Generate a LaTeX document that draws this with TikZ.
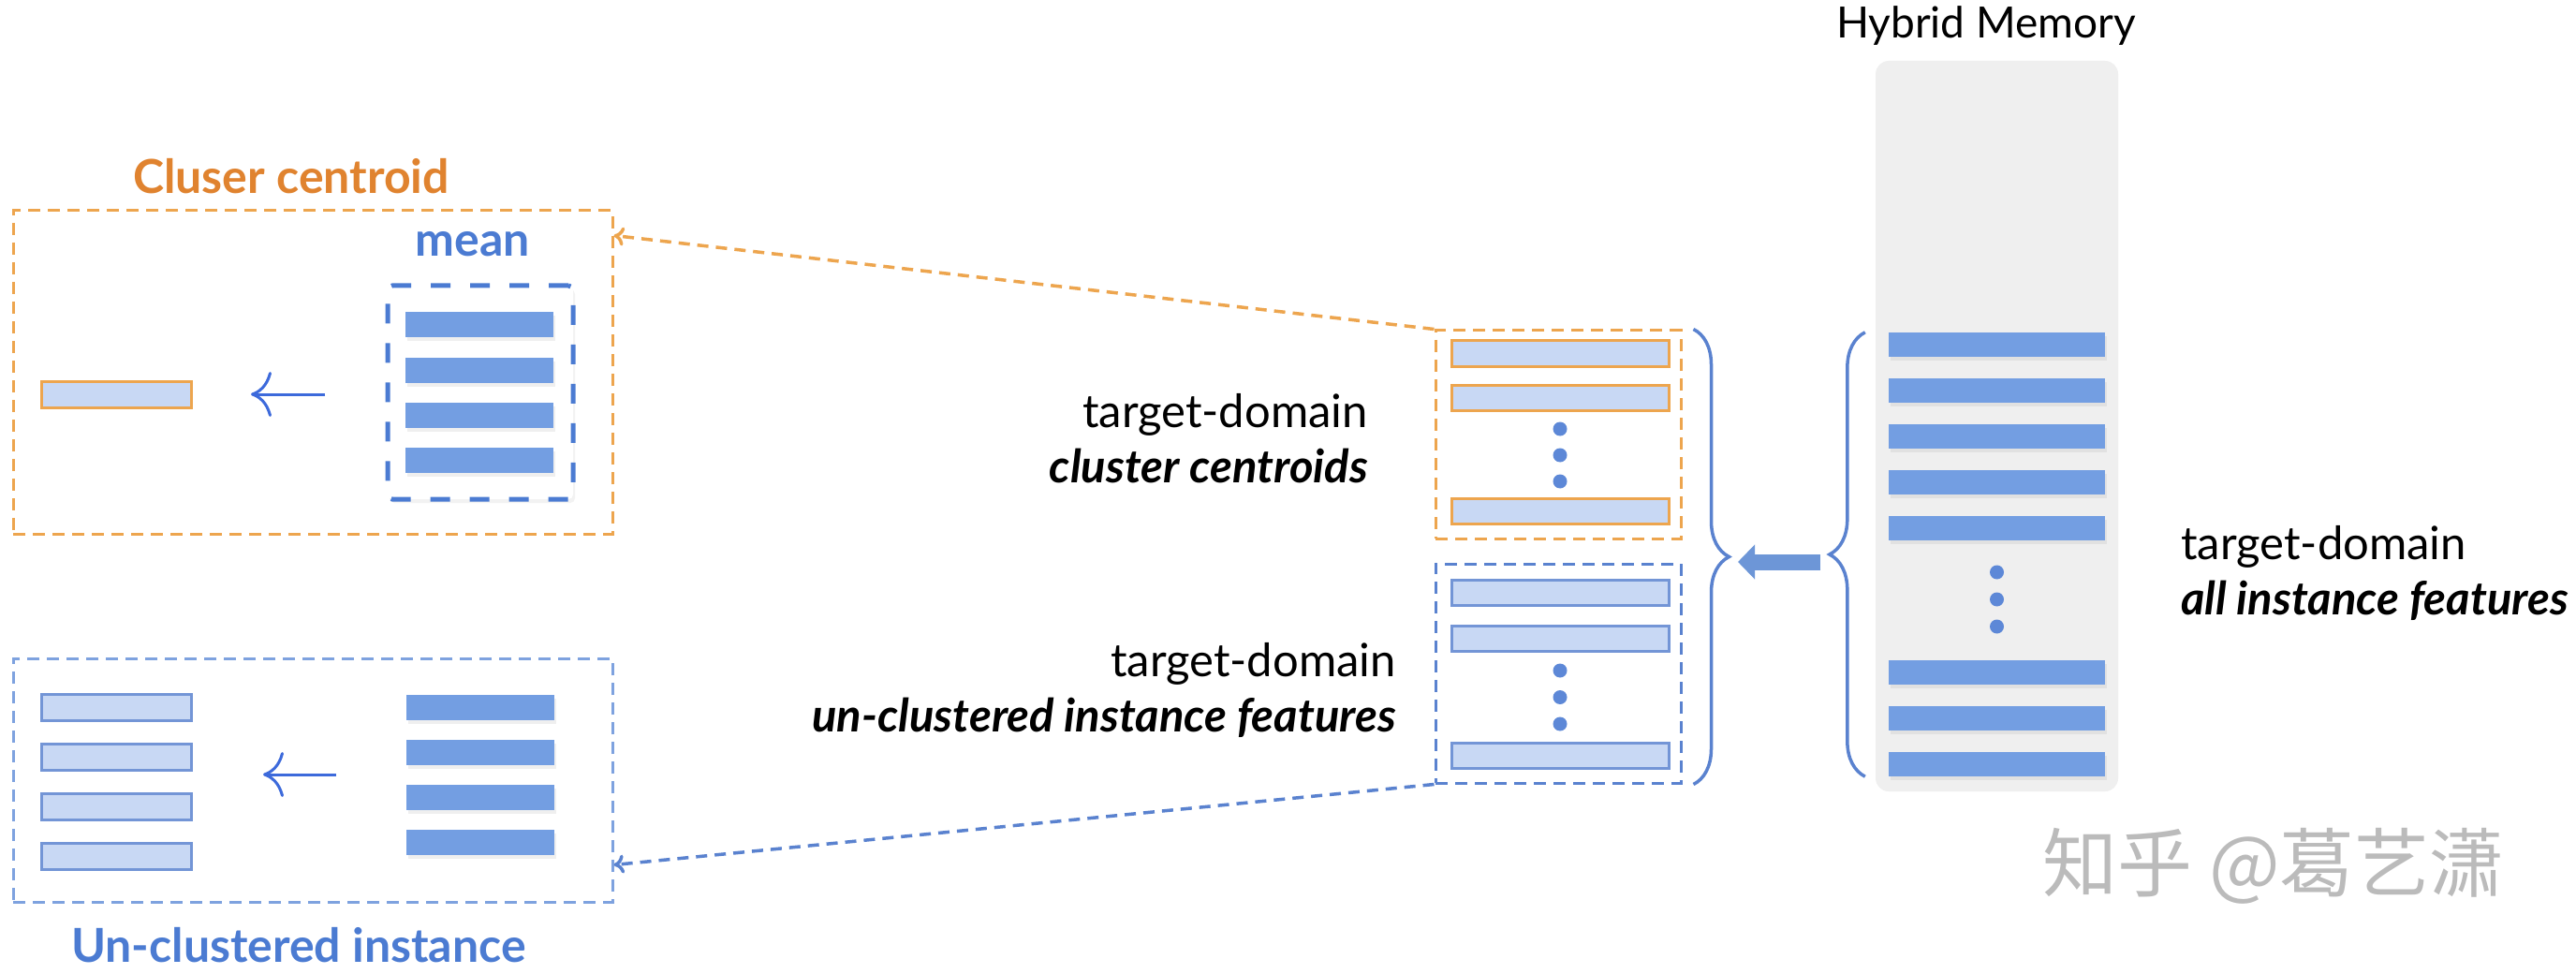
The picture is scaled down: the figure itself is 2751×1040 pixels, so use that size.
\documentclass[tikz,border=0pt]{standalone}
\usepackage{fontspec}
\setmainfont{Lato}
\newfontfamily\cjkfont{Noto Sans CJK SC}
\usetikzlibrary{arrows.meta,decorations.pathreplacing,shadows}

\definecolor{ctrorange}{HTML}{E0832F}
\definecolor{ctrline}{HTML}{EDA54E}
\definecolor{insblue}{HTML}{4B7BD2}
\definecolor{barblue}{HTML}{739EE2}
\definecolor{barlight}{HTML}{C8D8F4}
\definecolor{braceblue}{HTML}{5A82CF}
\definecolor{softblue}{HTML}{7EA2DF}
\definecolor{arrowblue}{HTML}{3D6ADB}
\definecolor{memgray}{HTML}{EFEFEF}
\definecolor{markgray}{HTML}{BBBBBB}

\begin{document}
\begin{tikzpicture}[x=1pt, y=-1pt, node distance=48pt,
    txt/.style={inner sep=0pt, font=\fontsize{49}{59}\selectfont},
    heading/.style={inner sep=0pt, font=\fontsize{50}{60}\selectfont\bfseries},
    featbar/.style={rectangle, inner sep=0pt, fill=barblue, minimum width=158pt, minimum height=27pt,
        drop shadow={shadow xshift=2pt, shadow yshift=-4pt, opacity=0.12}},
    membar/.style={featbar, minimum width=231pt, minimum height=26pt},
    ctrbar/.style={rectangle, inner sep=0pt, fill=barlight, draw=ctrline, line width=3pt, minimum width=160pt, minimum height=28pt},
    insbar/.style={ctrbar, draw=braceblue!85!white},
    dot/.style={circle, inner sep=0pt, fill=insblue!90!white, minimum size=15pt},
    dashbox/.style={rectangle, inner sep=0pt, line width=3pt, dash pattern=on 13pt off 8pt},
    meanbox/.style={rectangle, inner sep=0pt, draw=insblue, fill=white, line width=5pt, dash pattern=on 21pt off 21pt,
        rounded corners=5pt, drop shadow={shadow xshift=2pt, shadow yshift=-4pt, opacity=0.1}},
    mempanel/.style={rectangle, inner sep=0pt, fill=memgray, rounded corners=14pt},
    thinarrow/.style={draw=arrowblue, line width=3pt, -{Computer Modern Rightarrow[length=22pt,width=48pt]}},
    link/.style={line width=3.5pt, dash pattern=on 12pt off 8pt, -{Computer Modern Rightarrow[length=11pt,width=20pt]}},
    bracket/.style={draw=braceblue, line width=3.5pt, decorate, decoration={brace, amplitude=38pt}},
    fatarrow/.style={draw=barblue!95!black, line width=17pt, -{Triangle[length=18pt,width=36pt]}}]

    \useasboundingbox[fill=white] (0,0) rectangle (2751,1040);

    % hybrid memory on the right
    \node[txt, font=\fontsize{46}{56}\selectfont] (memtitle) at (2121,28) {Hybrid Memory};
    \node[mempanel, minimum width=259pt, minimum height=780pt] (memory) at (2132.5,455) {};
    \node[membar] (m1) at (2132.5,368) {};
    \node[membar, node distance=49pt, below of=m1] (m2) {};
    \node[membar, node distance=49pt, below of=m2] (m3) {};
    \node[membar, node distance=49pt, below of=m3] (m4) {};
    \node[membar, node distance=49pt, below of=m4] (m5) {};
    \node[dot, node distance=47pt, below of=m5] (md1) {};
    \node[dot, node distance=29pt, below of=md1] (md2) {};
    \node[dot, node distance=29pt, below of=md2] (md3) {};
    \node[membar, node distance=49pt, below of=md3] (m6) {};
    \node[membar, node distance=49pt, below of=m6] (m7) {};
    \node[membar, node distance=49pt, below of=m7] (m8) {};
    \node[txt, anchor=west, align=left] (alllabel) at (2329,612) {target-domain\\\textbf{\textit{all instance features}}};

    % middle column
    \node[dashbox, draw=ctrline, minimum width=262pt, minimum height=222pt] (ccbox) at (1664,464) {};
    \node[ctrbar, minimum width=232pt, minimum height=27pt] (c1) at (1666,377.5) {};
    \node[ctrbar, minimum width=232pt, minimum height=27pt, node distance=47pt, below of=c1] (c2) {};
    \node[dot] (cd1) at (1666,458) {};
    \node[dot, node distance=28pt, below of=cd1] (cd2) {};
    \node[dot, node distance=28pt, below of=cd2] (cd3) {};
    \node[ctrbar, minimum width=232pt, minimum height=27pt] (c3) at (1666,545.5) {};

    \node[dashbox, draw=braceblue, minimum width=262pt, minimum height=234pt] (ucbox) at (1664,719) {};
    \node[insbar, minimum width=232pt, minimum height=27pt] (u1) at (1666,633) {};
    \node[insbar, minimum width=232pt, minimum height=27pt, node distance=48.5pt, below of=u1] (u2) {};
    \node[dot] (ud1) at (1666,716) {};
    \node[dot, node distance=28.5pt, below of=ud1] (ud2) {};
    \node[dot, node distance=28.5pt, below of=ud2] (ud3) {};
    \node[insbar, minimum width=232pt, minimum height=27pt] (u3) at (1666,807) {};

    \node[txt, anchor=east, align=right] (cclabel) at (1461,468) {target-domain\\\textbf{\textit{cluster centroids}}};
    \node[txt, anchor=east, align=right] (uclabel) at (1491,737) {target-domain\\\textbf{\textit{un-clustered instance features}}};

    % braces and the fat arrow between them
    \draw[bracket] ([xshift=12pt]ccbox.north east) -- ([xshift=12pt]ucbox.south east);
    \draw[bracket] ([xshift=-25pt]m8.south west) -- ([xshift=-25pt]m1.north west);
    \coordinate (midtip) at (1845,600);
    \coordinate (memtip) at (1954,600);
    \draw[fatarrow] ([xshift=-10pt]memtip) -- ([xshift=11pt]midtip);

    % cluster centroid panel
    \node[heading, text=ctrorange] (cctitle) at (311,188) {Cluser centroid};
    \node[dashbox, draw=ctrline, minimum width=640pt, minimum height=345pt] (cbox) at (334,397.5) {};
    \node[heading, text=insblue] (meantitle) at (505,261) {mean};
    \node[meanbox, minimum width=198pt, minimum height=228pt] (mbox) at (513,419) {};
    \node[featbar] (mb1) at (512,347) {};
    \node[featbar, below of=mb1] (mb2) {};
    \node[featbar, below of=mb2] (mb3) {};
    \node[featbar, below of=mb3] (mb4) {};
    \node[ctrbar] (cbar) at (124,421) {};
    \coordinate (meanfrom) at (347,421);
    \coordinate (meanto) at (268,421);
    \draw[thinarrow] (meanfrom) -- (meanto);

    % un-clustered instance panel
    \node[dashbox, draw=softblue, minimum width=640pt, minimum height=260pt] (ubox) at (334,833) {};
    \node[insbar] (ul1) at (124,755) {};
    \node[insbar, node distance=53pt, below of=ul1] (ul2) {};
    \node[insbar, node distance=53pt, below of=ul2] (ul3) {};
    \node[insbar, node distance=53pt, below of=ul3] (ul4) {};
    \node[featbar] (ur1) at (513,755) {};
    \node[featbar, below of=ur1] (ur2) {};
    \node[featbar, below of=ur2] (ur3) {};
    \node[featbar, below of=ur3] (ur4) {};
    \coordinate (insfrom) at (359,827);
    \coordinate (insto) at (281,827);
    \draw[thinarrow] (insfrom) -- (insto);
    \node[heading, text=insblue] (uctitle) at (319,1009) {Un-clustered instance};

    % dashed links to the panels
    \draw[link, draw=ctrline] (ccbox.north west) -- ([yshift=-28pt]cbox.north east);
    \draw[link, draw=braceblue] (ucbox.south west) -- ([yshift=41pt]ubox.south east);

    % watermark
    \node[inner sep=0pt, text=markgray, font=\cjkfont\fontsize{80}{92}\selectfont] (mark) at (2428,925) {知乎 @葛艺潇};
\end{tikzpicture}
\end{document}
